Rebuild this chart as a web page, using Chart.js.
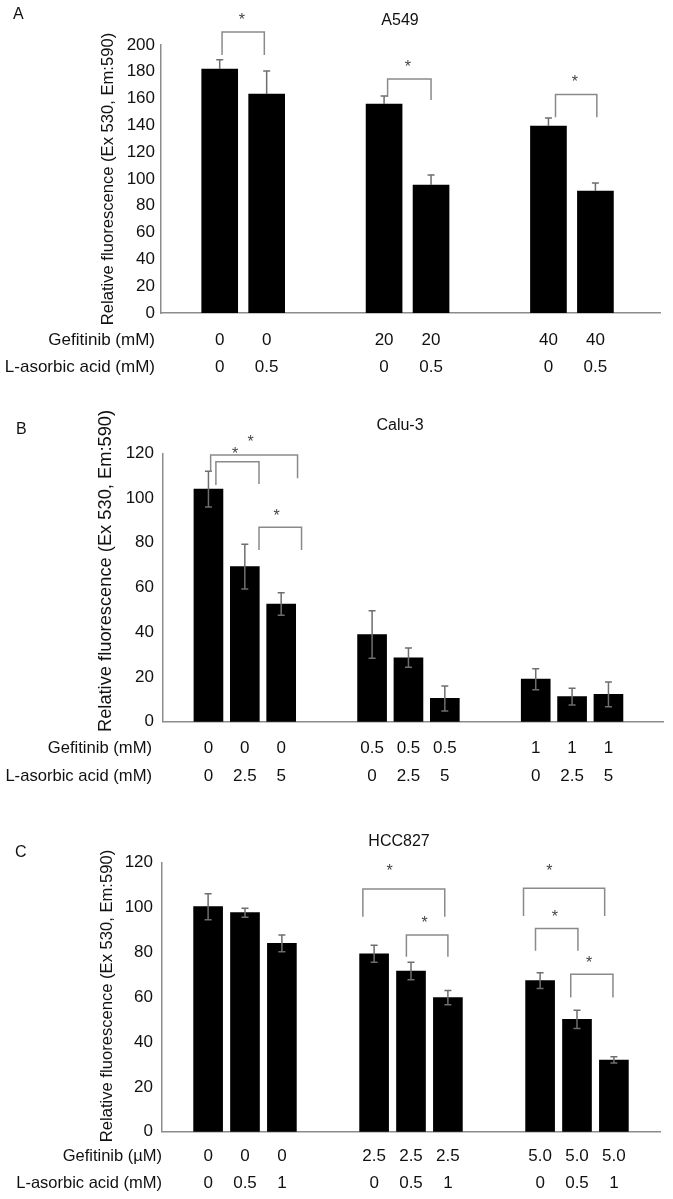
<!DOCTYPE html>
<html>
<head>
<meta charset="utf-8">
<title>Relative fluorescence</title>
<script src="https://cdn.jsdelivr.net/npm/chart.js@4.4.1/dist/chart.umd.min.js"></script>
<style>
  body { margin: 0; background: #fff; width: 673px; height: 1199px; position: relative; overflow: hidden; }
  canvas { position: absolute; left: 0; }
</style>
</head>
<body>
<canvas id="chartA" width="673" height="385" style="top:0px"></canvas>
<canvas id="chartB" width="673" height="400" style="top:385px"></canvas>
<canvas id="chartC" width="673" height="414" style="top:785px"></canvas>
<script>
/* ── Data: panel A (A549) ── */
const posA  = [0, 2, 7, 9, 14, 16];
const gefA  = ['0', '0', '20', '20', '40', '40'];
const ascA  = ['0', '0.5', '0', '0.5', '0', '0.5'];
const meanA = [182, 163.4, 156, 95.5, 139.5, 91];
const errA  = [7, 17.2, 6, 7.5, 6, 6];
// brackets: [x from, x to, top, left leg end, right leg end, star x, star y]
const sigA  = [
  [0.1, 1.9, 209.7, 192.5, 192.5, 0.94, 221.6],
  [7.15, 9, 174.6, 161.2, 159, 8.01, 186.6],
  [14.3, 16.06, 163, 146, 146, 15.12, 175.4]
];

/* ── Data: panel B (Calu-3) ── */
const posB  = [0, 2, 4, 9, 11, 13, 18, 20, 22];
const gefB  = ['0', '0', '0', '0.5', '0.5', '0.5', '1', '1', '1'];
const ascB  = ['0', '2.5', '5', '0', '2.5', '5', '0', '2.5', '5'];
const meanB = [104, 69.3, 52.6, 39, 28.6, 10.4, 19, 11.2, 12.2];
const errB  = [8, 10, 5, 10.6, 4.3, 5.6, 4.7, 3.7, 5.5];
const sigB  = [
  [0.12, 4.9, 119.2, 111.8, 108.8, 2.32, 126.7],
  [0.41, 2.78, 116.2, 105.8, 106.3, 1.46, 121.5],
  [2.78, 5.12, 86.9, 76.8, 76.8, 3.75, 93.6]
];

/* ── Data: panel C (HCC827) ── */
const posC  = [0, 2, 4, 9, 11, 13, 18, 20, 22];
const gefC  = ['0', '0', '0', '2.5', '2.5', '2.5', '5.0', '5.0', '5.0'];
const ascC  = ['0', '0.5', '1', '0', '0.5', '1', '0', '0.5', '1'];
const meanC = [100.4, 97.7, 84, 79.4, 71.7, 59.8, 67.4, 50.1, 32];
const errC  = [5.8, 2, 3.7, 3.8, 3.9, 3.2, 3.5, 4.1, 1.4];
const sigC  = [
  [8.39, 12.83, 108.3, 95.9, 95.9, 9.84, 117.9],
  [10.75, 13.0, 87.7, 78, 78, 11.74, 94.7],
  [17.1, 21.5, 108.6, 96.2, 96.2, 18.5, 118.2],
  [17.75, 20.05, 90.7, 80.7, 80.7, 18.8, 97.4],
  [19.66, 21.95, 70.2, 59.9, 59.9, 20.65, 77]
];

const yTitle = 'Relative fluorescence (Ex 530, Em:590)';
const FONT = "'Liberation Sans', Arial, sans-serif";
Chart.defaults.font.family = FONT;

/* ── Error bars, significance brackets and extra labels ── */
const extrasPlugin = {
  id: 'extras',
  afterDatasetsDraw(chart) {
    const p = chart.options.plugins.extras;
    const xs = chart.scales.x, ys = chart.scales.y;
    const ctx = chart.ctx;
    ctx.save();
    // error bars
    ctx.strokeStyle = '#6e6e6e';
    ctx.lineWidth = 1.5;
    p.pos.forEach((v, i) => {
      const x = xs.getPixelForValue(v);
      const yt = ys.getPixelForValue(p.mean[i] + p.err[i]);
      const yb = ys.getPixelForValue(p.plusOnly ? p.mean[i] : p.mean[i] - p.err[i]);
      ctx.beginPath();
      ctx.moveTo(x, yt); ctx.lineTo(x, yb);
      ctx.moveTo(x - 3.5, yt); ctx.lineTo(x + 3.5, yt);
      if (!p.plusOnly) { ctx.moveTo(x - 3.5, yb); ctx.lineTo(x + 3.5, yb); }
      ctx.stroke();
    });
    // brackets
    ctx.strokeStyle = '#8a8a8a';
    ctx.fillStyle = '#444';
    ctx.font = '16px ' + FONT;
    ctx.textAlign = 'center';
    ctx.textBaseline = 'alphabetic';
    p.sig.forEach(s => {
      const x0 = xs.getPixelForValue(s[0]), x1 = xs.getPixelForValue(s[1]);
      const top = ys.getPixelForValue(s[2]);
      ctx.beginPath();
      ctx.moveTo(x0, ys.getPixelForValue(s[3]));
      ctx.lineTo(x0, top);
      ctx.lineTo(x1, top);
      ctx.lineTo(x1, ys.getPixelForValue(s[4]));
      ctx.stroke();
      ctx.fillText('*', xs.getPixelForValue(s[5]), ys.getPixelForValue(s[6]) + 9);
    });
    ctx.restore();
  },
  afterDraw(chart) {
    const p = chart.options.plugins.extras;
    const ctx = chart.ctx;
    ctx.save();
    ctx.fillStyle = '#111';
    ctx.textBaseline = 'middle';
    // panel letter + cell line title
    ctx.font = '16px ' + FONT;
    ctx.textAlign = 'left';
    ctx.fillText(p.letter, p.letterX, p.letterY);
    ctx.textAlign = 'center';
    ctx.fillText(p.title, p.titleX, p.titleY);
    // row labels of the x axis
    ctx.font = p.rowFont + 'px ' + FONT;
    ctx.textAlign = 'right';
    ctx.fillText(p.rowLabels[0], p.rowX, p.rowY[0]);
    ctx.fillText(p.rowLabels[1], p.rowX, p.rowY[1]);
    // y axis title
    ctx.translate(p.yTitleX, p.yTitleY);
    ctx.rotate(-Math.PI / 2);
    ctx.font = p.yTitleFont + 'px ' + FONT;
    ctx.textAlign = 'center';
    ctx.fillText(yTitle, 0, 0);
    ctx.restore();
  }
};

function makePanel(id, d, lay) {
  const canvas = document.getElementById(id);
  const H = canvas.height;
  return new Chart(canvas, {
    type: 'bar',
    data: {
      datasets: [{
        data: d.pos.map((v, i) => ({ x: v, y: d.mean[i] })),
        backgroundColor: '#000',
        borderWidth: 0,
        barThickness: lay.barW
      }]
    },
    options: {
      responsive: false,
      animation: false,
      devicePixelRatio: 1,
      layout: { padding: { top: lay.top, right: 673 - lay.right, bottom: 0, left: 0 } },
      plugins: {
        legend: { display: false },
        tooltip: { enabled: false },
        extras: Object.assign({}, d, lay.text)
      },
      scales: {
        x: {
          type: 'linear',
          offset: false,
          min: lay.xMin, max: lay.xMax,
          grid: { display: false, drawTicks: false, offset: false },
          border: { display: true, color: '#8c8c8c', width: 1.5 },
          ticks: {
            autoSkip: false, maxRotation: 0, color: '#111',
            padding: lay.tickPad,
            font: { size: 17, lineHeight: lay.lineH / 17 },
            callback: (v, i) => [d.gef[i], d.asc[i]]
          },
          afterBuildTicks: s => { s.ticks = d.pos.map(v => ({ value: v })); },
          afterFit: s => { s.height = H - lay.bottom; }
        },
        y: {
          min: 0, max: lay.yMax,
          grid: { display: false, drawTicks: false },
          border: { display: true, color: '#8c8c8c', width: 1.5 },
          ticks: { stepSize: 20, padding: lay.yPad, color: '#111', font: { size: 17 } },
          afterFit: s => { s.width = lay.left; }
        }
      }
    },
    plugins: [extrasPlugin]
  });
}

makePanel('chartA',
  { pos: posA, gef: gefA, asc: ascA, mean: meanA, err: errA, sig: sigA, plusOnly: true },
  { left: 161, right: 660, top: 45, bottom: 313, xMin: -2.5, xMax: 18.75, yMax: 200,
    barW: 36, tickPad: 13.5, lineH: 27, yPad: 6,
    text: { letter: 'A', letterX: 13, letterY: 15, title: 'A549', titleX: 400, titleY: 21,
      rowLabels: ['Gefitinib (mM)', 'L-asorbic acid (mM)'], rowX: 155, rowY: [340, 367], rowFont: 17,
      yTitleX: 108, yTitleY: 179, yTitleFont: 16.6 } });

makePanel('chartB',
  { pos: posB, gef: gefB, asc: ascB, mean: meanB, err: errB, sig: sigB, plusOnly: false },
  { left: 163, right: 663, top: 68.3, bottom: 336.7, xMin: -2.5, xMax: 25, yMax: 120,
    barW: 29, tickPad: 12.75, lineH: 27.7, yPad: 9,
    text: { letter: 'B', letterX: 16, letterY: 45, title: 'Calu-3', titleX: 400, titleY: 41,
      rowLabels: ['Gefitinib (mM)', 'L-asorbic acid (mM)'], rowX: 152, rowY: [363.3, 391], rowFont: 16.6,
      yTitleX: 106, yTitleY: 186, yTitleFont: 18.3 } });

makePanel('chartC',
  { pos: posC, gef: gefC, asc: ascC, mean: meanC, err: errC, sig: sigC, plusOnly: false },
  { left: 162, right: 660, top: 77.7, bottom: 346.7, xMin: -2.5, xMax: 24.5, yMax: 120,
    barW: 29, tickPad: 11.65, lineH: 26.7, yPad: 9,
    text: { letter: 'C', letterX: 15, letterY: 68, title: 'HCC827', titleX: 399, titleY: 57,
      rowLabels: ['Gefitinib (\u00b5M)', 'L-asorbic acid (mM)'], rowX: 162, rowY: [371.7, 398.3], rowFont: 16.5,
      yTitleX: 107, yTitleY: 211, yTitleFont: 16.6 } });
</script>
</body>
</html>
